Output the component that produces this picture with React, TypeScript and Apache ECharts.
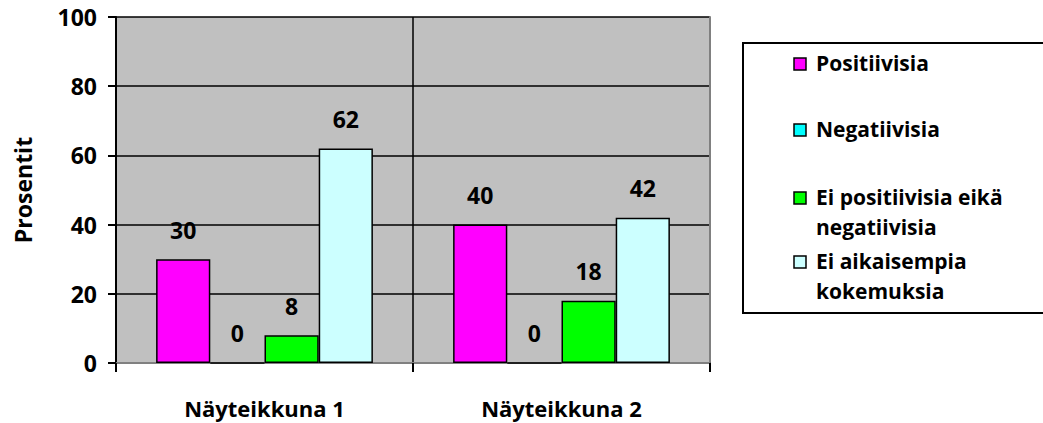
import React, { useEffect, useRef } from "react";
import * as echarts from "echarts";

const categories = ["Näyteikkuna 1", "Näyteikkuna 2"];
const seriesNames = [
  "Positiivisia",
  "Negatiivisia",
  "Ei positiivisia eikä negatiivisia",
  "Ei aikaisempia kokemuksia",
];
// wrapped legend text, one entry per series
const legendLines = [
  ["Positiivisia"],
  ["Negatiivisia"],
  ["Ei positiivisia eikä", "negatiivisia"],
  ["Ei aikaisempia", "kokemuksia"],
];
const positiivisia = [30, 40];
const negatiivisia = [0, 0];
const eiKumpikaan = [8, 18];
const eiKokemuksia = [62, 42];
const seriesValues = [positiivisia, negatiivisia, eiKumpikaan, eiKokemuksia];
const seriesColors = ["#FF00FF", "#00FFFF", "#00FF00", "#CCFFFF"];
const yTicks = [0, 20, 40, 60, 80, 100];

const FONT = "'Open Sans', Lato, sans-serif";
const FS = 23;

export default function App() {
  const ref = useRef<HTMLDivElement>(null);

  useEffect(() => {
    document.body.style.margin = "0";
    if (!ref.current) return;
    const chart = echarts.init(ref.current, null, { renderer: "svg" });

    const textBase = {
      fontFamily: FONT,
      fontWeight: "bold" as const,
      fontSize: FS,
      color: "#000",
    };

    // legend box drawn with graphic elements
    const legendTop = [64, 130, 198, 262];
    const legendGraphics: any[] = [
      {
        type: "rect",
        shape: { x: 743, y: 43, width: 400, height: 270 },
        style: { fill: "#fff", stroke: "#000", lineWidth: 2 },
        z: 1,
      },
    ];
    seriesNames.forEach((_, i) => {
      legendGraphics.push({
        type: "rect",
        shape: { x: 794, y: legendTop[i] - 6, width: 12, height: 12 },
        style: { fill: seriesColors[i], stroke: "#000", lineWidth: 1.5 },
        z: 2,
      });
      legendGraphics.push({
        type: "text",
        x: 816,
        y: legendTop[i] - 16,
        style: {
          text: legendLines[i].join("\n"),
          fontFamily: FONT,
          fontWeight: "bold",
          fontSize: 21,
          lineHeight: 30,
          fill: "#000",
          verticalAlign: "top",
        },
        z: 2,
      });
    });

    chart.setOption({
      animation: false,
      grid: {
        left: 116,
        right: 333,
        top: 17,
        bottom: 60,
        show: true,
        backgroundColor: "#C0C0C0",
        borderWidth: 0,
      },
      xAxis: [
        {
          type: "category",
          data: categories,
          axisLine: { show: true, lineStyle: { color: "#000", width: 2 } },
          axisTick: { show: true, length: 9, lineStyle: { color: "#000", width: 2 } },
          axisLabel: { ...textBase, fontSize: 22, lineHeight: 22, margin: 34 },
          splitLine: { show: true, lineStyle: { color: "#000", width: 1.5 } },
        },
        {
          type: "category",
          position: "top",
          data: categories,
          axisLine: { show: true, lineStyle: { color: "#808080", width: 2 } },
          axisTick: { show: false },
          axisLabel: { show: false },
          splitLine: { show: false },
        },
      ],
      yAxis: [
        {
          type: "value",
          min: 0,
          max: 100,
          interval: 20,
          name: "Prosentit",
          nameLocation: "middle",
          nameGap: 82,
          nameTextStyle: { ...textBase },
          axisLine: { show: true, lineStyle: { color: "#000", width: 2 } },
          axisTick: { show: true, length: 8, lineStyle: { color: "#000", width: 2 } },
          axisLabel: {
            ...textBase,
            margin: 19,
            formatter: (v: number) => (yTicks.includes(v) ? String(v) : ""),
          },
          splitLine: { show: true, lineStyle: { color: "#000", width: 1.5 } },
        },
        {
          type: "value",
          position: "right",
          min: 0,
          max: 100,
          interval: 20,
          axisLine: { show: true, lineStyle: { color: "#808080", width: 2 } },
          axisTick: { show: false },
          axisLabel: { show: false },
          splitLine: { show: false },
        },
      ],
      series: seriesNames.map((name, i) => ({
        name,
        type: "bar",
        data: seriesValues[i],
        barGap: "0%",
        barCategoryGap: "27%",
        itemStyle: { color: seriesColors[i], borderColor: "#000", borderWidth: 1.5 },
        label: {
          show: true,
          position: "top",
          distance: 18,
          ...textBase,
        },
      })),
      graphic: legendGraphics,
    });

    return () => chart.dispose();
  }, []);

  return <div ref={ref} style={{ width: 1043, height: 423 }} />;
}
